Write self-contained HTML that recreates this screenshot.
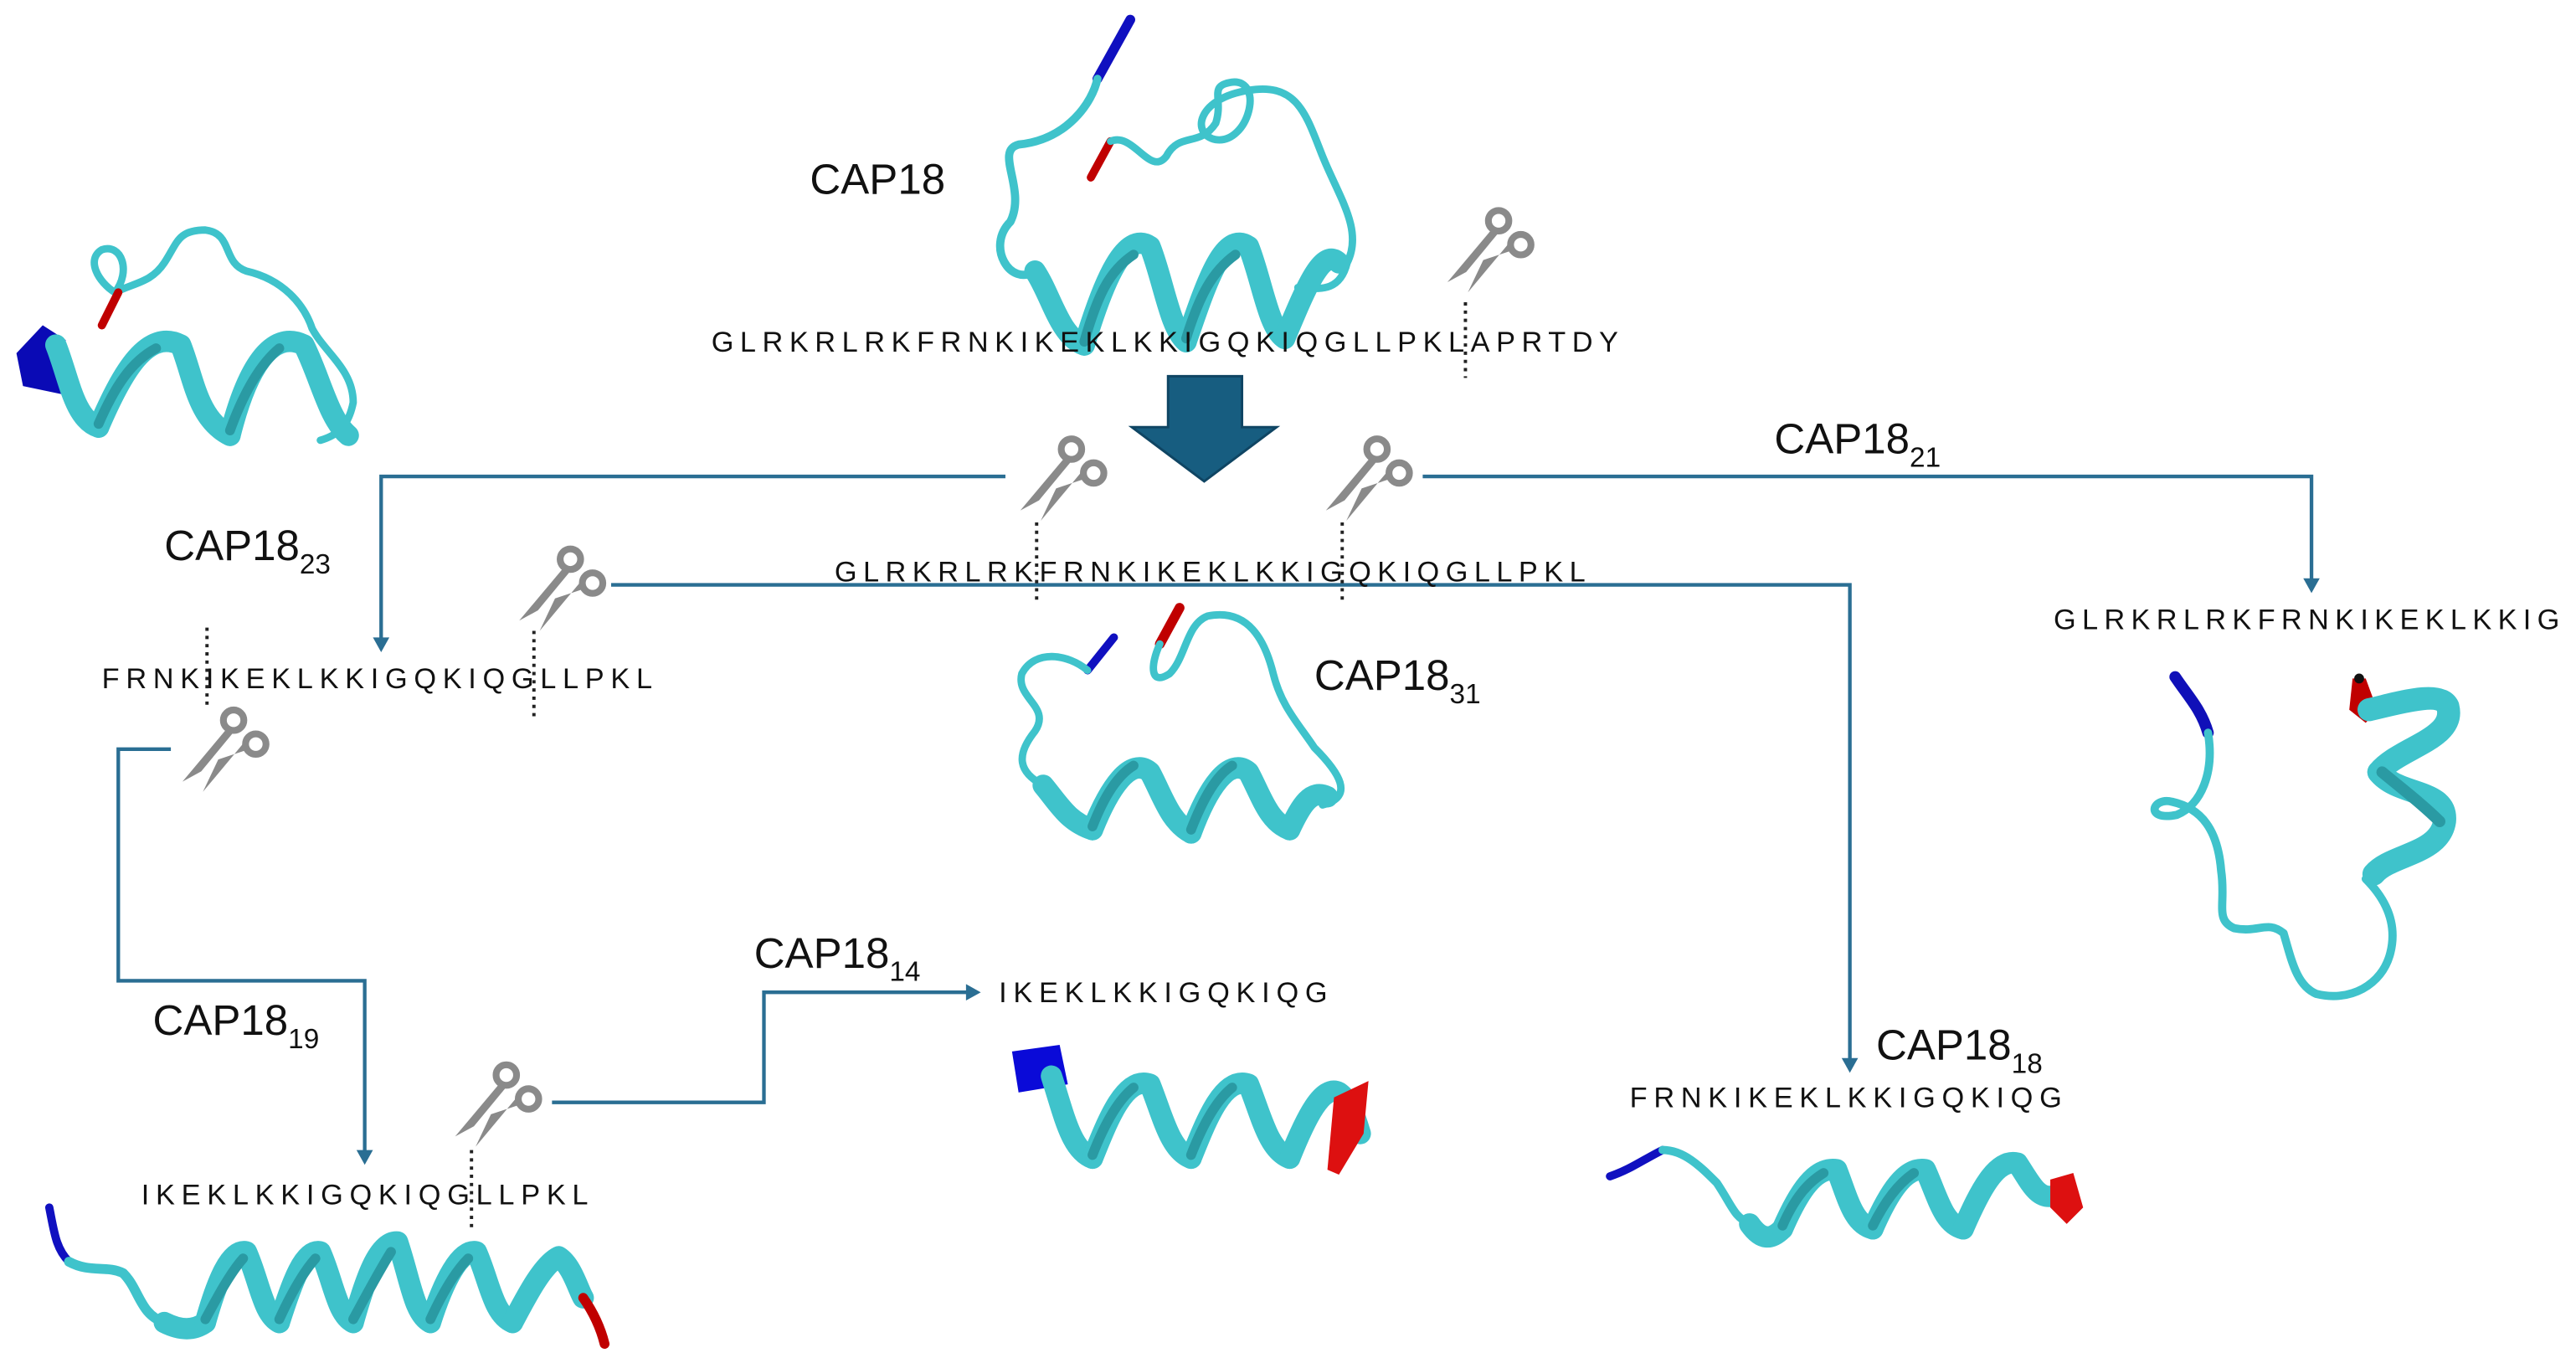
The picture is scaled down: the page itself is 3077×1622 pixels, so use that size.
<!DOCTYPE html>
<html><head><meta charset="utf-8"><style>
html,body{margin:0;padding:0;background:#fff;}
svg{display:block;}
.seq{font-family:"Liberation Sans",sans-serif;font-size:17.5px;fill:#111;}
.lab{font-family:"Liberation Sans",sans-serif;font-size:26px;fill:#111;}
.sub{font-size:17px;}
.ln{stroke:#2a6e93;stroke-width:2.2;fill:none;}
.dot{stroke:#222;stroke-width:2;stroke-dasharray:2 3;fill:none;}
.r{stroke:#3fc3cb;fill:none;stroke-linecap:round;stroke-linejoin:round;}
.rd{stroke:#2a9aa3;fill:none;stroke-linecap:round;}
</style></head><body>
<svg width="3077" height="1622" viewBox="0 0 1568 826.6" preserveAspectRatio="none" xmlns="http://www.w3.org/2000/svg">
<defs>
<symbol id="sc" viewBox="0 0 52 52" overflow="visible">
<circle cx="31" cy="10" r="6" fill="none" stroke="#8a8a8a" stroke-width="4"/>
<circle cx="44" cy="24" r="6" fill="none" stroke="#8a8a8a" stroke-width="4"/>
<polygon points="27,15 31,17 12,40 1,46" fill="#8a8a8a"/>
<polygon points="38,22 40,27 22,33 13,52" fill="#8a8a8a"/>
<circle cx="28" cy="27" r="1.8" fill="#fff"/>
</symbol>
</defs>

<!-- ===== Top CAP18 protein ===== -->
<path d="M668,48 L688,12" stroke="#1010c0" stroke-width="6" stroke-linecap="round"/>
<path class="r" stroke-width="5" d="M668,48 C665,62 650,85 620,88 C605,92 625,115 615,135 C600,150 615,175 630,165"/>
<path d="M664,108 L676,86" stroke="#c00000" stroke-width="5" stroke-linecap="round"/>
<path class="r" stroke-width="4.5" d="M676,86 C690,80 700,108 710,95 C718,80 730,90 740,75 C745,60 735,52 750,50 C770,48 760,88 740,85 C725,82 728,60 760,55 C790,50 795,70 805,95 C815,120 830,140 820,160 C815,180 800,175 790,175"/>
<g stroke-width="13" class="r">
<path d="M630,165 C640,180 645,205 660,210"/>
<path d="M660,210 C672,170 685,140 700,150 C708,170 712,200 722,208"/>
<path d="M722,208 C735,170 745,140 760,150 C768,170 772,200 782,206"/>
<path d="M782,206 C795,175 805,150 815,160"/>
</g>
<g stroke-width="6" class="rd">
<path d="M660,208 C668,180 675,165 690,155"/><path d="M722,206 C730,180 738,165 752,155"/>
</g>
<text class="lab" x="493" y="118">CAP18</text>
<text class="seq" x="433" y="214" textLength="552" lengthAdjust="spacing">GLRKRLRKFRNKIKEKLKKIGQKIQGLLPKLAPRTDY</text>
<line class="dot" x1="892" y1="184" x2="892" y2="230"/>
<use href="#sc" x="880" y="124" width="54" height="54"/>

<!-- big arrow -->
<polygon points="711,229 756,229 756,260 777,260 733,293 689,260 711,260" fill="#175d80" stroke="#0f4563" stroke-width="1.5"/>

<!-- left CAP18_23 protein -->
<path class="r" stroke-width="4.5" d="M70,178 C60,172 52,158 62,152 C74,148 80,165 70,178 C82,172 92,172 100,160 C108,148 108,140 125,140 C142,142 135,160 150,165 C172,170 185,185 190,200 C198,215 215,225 215,245 C212,260 205,265 195,268"/>
<path d="M62,198 L72,178" stroke="#c00000" stroke-width="5" stroke-linecap="round"/>
<polygon points="10,215 26,198 40,207 38,240 14,235" fill="#0a0ab5"/>
<g stroke-width="13" class="r">
<path d="M34,210 C42,230 45,255 60,260"/>
<path d="M60,260 C75,225 90,200 110,210 C118,230 120,255 140,265"/>
<path d="M140,265 C150,225 165,200 185,210 C195,230 200,255 212,265"/>
</g>
<g stroke-width="6" class="rd"><path d="M60,258 C70,235 80,220 95,212"/><path d="M140,262 C148,240 158,222 170,212"/></g>

<!-- connectors -->
<polyline class="ln" points="612,290 232,290 232,392"/>
<polygon points="227,388 237,388 232,397" fill="#2a6e93"/>
<polyline class="ln" points="866,290 1407,290 1407,356"/>
<polygon points="1402,352 1412,352 1407,361" fill="#2a6e93"/>
<polyline class="ln" points="372,356 1126,356 1126,648"/>
<polygon points="1121,644 1131,644 1126,653" fill="#2a6e93"/>
<polyline class="ln" points="104,456 72,456 72,597 222,597 222,705"/>
<polygon points="217,700 227,700 222,709" fill="#2a6e93"/>
<polyline class="ln" points="336,671 465,671 465,604 590,604"/>
<polygon points="588,599 588,609 597,604" fill="#2a6e93"/>

<use href="#sc" x="620" y="263" width="54" height="54"/>
<use href="#sc" x="806" y="263" width="54" height="54"/>
<use href="#sc" x="315" y="330" width="54" height="54"/>
<use href="#sc" x="110" y="428" width="54" height="54"/>
<use href="#sc" x="276" y="644" width="54" height="54"/>

<text class="lab" x="1080" y="276">CAP18<tspan class="sub" dy="8">21</tspan></text>
<text class="lab" x="100" y="341">CAP18<tspan class="sub" dy="8">23</tspan></text>
<text class="lab" x="800" y="420">CAP18<tspan class="sub" dy="8">31</tspan></text>
<text class="lab" x="93" y="630">CAP18<tspan class="sub" dy="8">19</tspan></text>
<text class="lab" x="459" y="589">CAP18<tspan class="sub" dy="8">14</tspan></text>
<text class="lab" x="1142" y="645">CAP18<tspan class="sub" dy="8">18</tspan></text>

<text class="seq" x="508" y="354" textLength="457" lengthAdjust="spacing">GLRKRLRKFRNKIKEKLKKIGQKIQGLLPKL</text>
<line class="dot" x1="631" y1="318" x2="631" y2="368"/>
<line class="dot" x1="817" y1="318" x2="817" y2="368"/>
<text class="seq" x="1250" y="383" textLength="308" lengthAdjust="spacing">GLRKRLRKFRNKIKEKLKKIG</text>
<text class="seq" x="62" y="419" textLength="335" lengthAdjust="spacing">FRNKIKEKLKKIGQKIQGLLPKL</text>
<line class="dot" x1="126" y1="382" x2="126" y2="432"/>
<line class="dot" x1="325" y1="384" x2="325" y2="436"/>
<text class="seq" x="86" y="733" textLength="272" lengthAdjust="spacing">IKEKLKKIGQKIQGLLPKL</text>
<line class="dot" x1="287" y1="700" x2="287" y2="750"/>
<text class="seq" x="608" y="610" textLength="200" lengthAdjust="spacing">IKEKLKKIGQKIQG</text>
<text class="seq" x="992" y="674" textLength="263" lengthAdjust="spacing">FRNKIKEKLKKIGQKIQG</text>

<!-- CAP18_31 protein -->
<path d="M662,408 L678,388" stroke="#1010c0" stroke-width="5" stroke-linecap="round"/>
<path d="M706,392 L718,370" stroke="#c00000" stroke-width="6" stroke-linecap="round"/>
<path class="r" stroke-width="4.5" d="M662,408 C650,398 630,395 622,410 C618,425 640,430 630,445 C618,460 620,470 635,478"/>
<path class="r" stroke-width="4.5" d="M706,392 C700,405 700,418 712,410 C722,400 722,380 735,375 C760,370 770,390 775,410 C780,430 790,440 800,455 C815,470 825,485 805,490"/>
<g stroke-width="13" class="r">
<path d="M635,478 C645,490 650,500 665,505"/>
<path d="M665,505 C675,480 688,460 700,470 C708,485 712,500 725,507"/>
<path d="M725,507 C735,480 748,460 760,470 C768,485 772,500 785,505"/>
<path d="M785,505 C792,490 798,480 808,485"/>
</g>
<g stroke-width="6" class="rd"><path d="M665,503 C672,485 680,472 690,466"/><path d="M725,505 C732,487 740,472 750,466"/></g>

<!-- CAP18_21 protein -->
<path d="M1324,412 C1332,424 1340,432 1344,446" stroke="#1010b8" stroke-width="7" stroke-linecap="round" fill="none"/>
<path class="r" stroke-width="5" d="M1344,446 C1348,470 1340,490 1325,496 C1305,500 1310,485 1322,488 C1340,492 1350,505 1352,530 C1355,550 1348,560 1360,565 C1375,568 1380,560 1390,568 C1395,585 1398,600 1410,605 C1430,610 1450,600 1455,580 C1460,560 1450,545 1440,535"/>
<polygon points="1432,413 1440,413 1447,432 1440,440 1430,432" fill="#c00000"/>
<circle cx="1436" cy="413" r="3" fill="#111"/>
<g stroke-width="14" class="r">
<path d="M1442,432 C1460,428 1485,420 1490,430 C1495,450 1460,455 1448,470"/>
<path d="M1448,470 C1460,485 1490,480 1488,500 C1485,520 1455,520 1445,532"/>
</g>
<path class="rd" stroke-width="7" d="M1450,470 C1462,480 1475,490 1485,500"/>

<!-- CAP18_14 protein -->
<polygon points="616,640 645,636 650,660 620,665" fill="#0a0ad8"/>
<g stroke-width="13" class="r">
<path d="M640,655 C648,680 652,700 665,705"/>
<path d="M665,705 C675,680 685,655 700,660 C708,680 712,700 725,705"/>
<path d="M725,705 C735,680 745,655 760,660 C768,680 772,700 785,705"/>
<path d="M785,705 C795,680 805,660 815,665 C822,670 825,680 828,690"/>
</g>
<g stroke-width="6" class="rd"><path d="M665,703 C672,685 680,670 690,662"/><path d="M725,703 C732,685 740,670 750,662"/></g>
<polygon points="812,668 833,658 830,690 815,715 808,712" fill="#dd1010"/>

<!-- CAP18_19 protein -->
<path d="M30,735 C33,750 34,760 42,768" stroke="#1010c0" stroke-width="5" stroke-linecap="round" fill="none"/>
<path class="r" stroke-width="6" d="M42,768 C55,775 65,770 75,775 C85,785 85,800 100,805"/>
<g stroke-width="13" class="r">
<path d="M100,805 C110,810 118,810 125,805"/>
<path d="M125,805 C132,780 140,760 150,762 C158,780 160,800 170,805"/>
<path d="M170,805 C178,780 185,760 195,762 C203,780 205,800 215,805"/>
<path d="M215,805 C222,780 230,755 242,756 C250,780 252,800 262,805"/>
<path d="M262,805 C270,780 280,760 290,762 C298,780 300,800 312,805"/>
<path d="M312,805 C320,790 330,770 340,765 C348,770 352,785 355,790"/>
</g>
<g stroke-width="6" class="rd"><path d="M125,803 C132,790 140,775 148,766"/><path d="M170,803 C176,790 184,775 192,766"/><path d="M215,803 C222,790 230,775 238,762"/><path d="M262,803 C268,790 276,775 285,766"/></g>
<path d="M355,790 C362,800 366,810 368,818" stroke="#c00000" stroke-width="6" stroke-linecap="round" fill="none"/>

<!-- CAP18_18 protein -->
<path d="M980,716 C992,712 1000,706 1012,700" stroke="#1010c0" stroke-width="5" stroke-linecap="round" fill="none"/>
<path class="r" stroke-width="5" d="M1012,700 C1025,700 1035,710 1045,720 C1055,735 1055,740 1065,745"/>
<g stroke-width="13" class="r">
<path d="M1065,745 C1072,755 1078,755 1085,748"/>
<path d="M1085,748 C1095,725 1105,710 1118,712 C1125,730 1128,745 1140,748"/>
<path d="M1140,748 C1150,725 1160,710 1172,712 C1180,730 1183,745 1195,748"/>
<path d="M1195,748 C1205,725 1215,705 1228,708 C1236,720 1240,730 1250,728"/>
</g>
<g stroke-width="6" class="rd"><path d="M1085,746 C1092,730 1100,720 1110,714"/><path d="M1140,746 C1148,730 1156,720 1165,714"/></g>
<polygon points="1248,718 1262,714 1268,735 1258,745 1248,735" fill="#dd1010"/>
</svg>
</body></html>
